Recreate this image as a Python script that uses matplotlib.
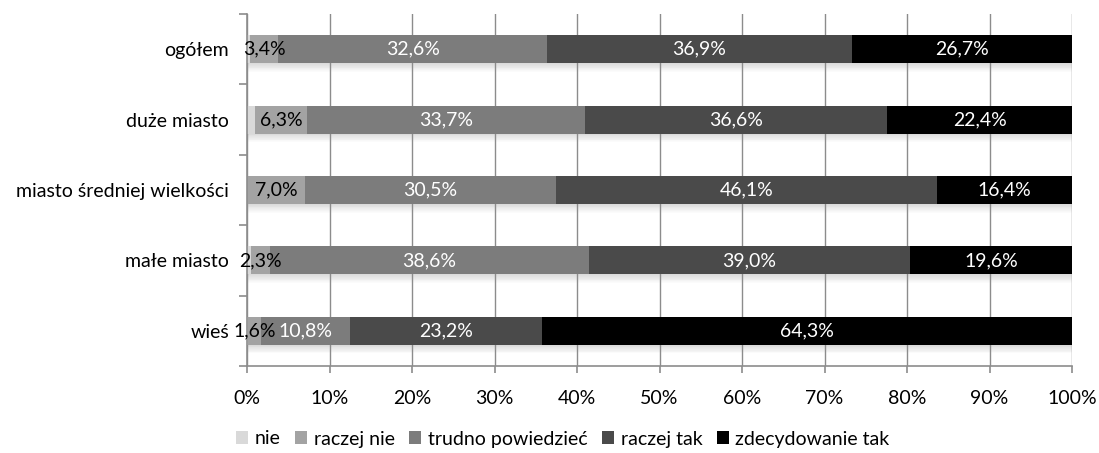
import matplotlib
matplotlib.use("Agg")
import matplotlib.pyplot as plt
import numpy as np
from matplotlib.patches import Patch

plt.rcParams['font.family'] = ['Lato', 'DejaVu Sans']

categories = ["ogółem", "duże miasto", "miasto średniej wielkości", "małe miasto", "wieś"]
series_names = ["nie", "raczej nie", "trudno powiedzieć", "raczej tak", "zdecydowanie tak"]
nie = [0.4, 1.0, 0.0, 0.5, 0.1]
raczej_nie = [3.4, 6.3, 7.0, 2.3, 1.6]
trudno = [32.6, 33.7, 30.5, 38.6, 10.8]
raczej_tak = [36.9, 36.6, 46.1, 39.0, 23.2]
zdecydowanie = [26.7, 22.4, 16.4, 19.6, 64.3]
xtick_labels = ["0%", "10%", "20%", "30%", "40%", "50%", "60%", "70%", "80%", "90%", "100%"]

series = [nie, raczej_nie, trudno, raczej_tak, zdecydowanie]
colors = ["#d9d9d9", "#a3a3a3", "#7c7c7c", "#4a4a4a", "#000000"]
label_colors = [None, "black", "white", "white", "white"]
FS = 14

fig = plt.figure(figsize=(10.99, 4.53), dpi=100)
ax = fig.add_axes([247/1099, 1-366/453, (1072-247)/1099, (366-14)/453])

y = np.arange(len(categories))
bar_h = 0.4
totals = np.sum(np.array(series), axis=0)

# soft shadow under each bar
steps = 10
for k in range(steps):
    a = 0.28 * (1 - k / steps)
    ax.barh(y + bar_h/2 + k*0.012 + 0.006, totals, height=0.012, left=0,
            color="#808080", alpha=a, linewidth=0, zorder=0.3)

left = np.zeros(len(categories))
for vals, col, lc in zip(series, colors, label_colors):
    vals = np.array(vals)
    ax.barh(y, vals, height=bar_h, left=left, color=col, linewidth=0, zorder=2)
    if lc is not None:
        for yi, (l, v) in enumerate(zip(left, vals)):
            ax.text(l + v/2, yi, f"{v:.1f}%".replace(".", ","), ha="center", va="center",
                    color=lc, fontsize=FS, zorder=3)
    left += vals

ax.set_xlim(0, 100)
ax.set_ylim(len(categories) - 0.5, -0.5)
ax.set_xticks(np.arange(0, 101, 10))
ax.set_xticklabels(xtick_labels, fontsize=FS)
ax.set_yticks(y)
ax.set_yticklabels(categories, fontsize=FS)
ax.set_yticks(np.arange(-0.5, len(categories), 1), minor=True)

ax.xaxis.grid(True, color="#8c8c8c", linewidth=1.0)
ax.set_axisbelow(True)
for g in ax.get_xgridlines():
    g.set_zorder(0.5)

for s in ["top", "right"]:
    ax.spines[s].set_visible(False)
for s in ["left", "bottom"]:
    ax.spines[s].set_color("#8c8c8c")
    ax.spines[s].set_linewidth(1.2)

ax.tick_params(axis="y", which="major", length=0, pad=13)
ax.tick_params(axis="y", which="minor", length=6, color="#8c8c8c", width=1.2)
ax.tick_params(axis="x", which="major", length=5, color="#8c8c8c", width=1.2, pad=12)

handles = [Patch(facecolor=c, edgecolor="none") for c in colors]
fig.legend(handles, series_names, loc="center", bbox_to_anchor=(563/1099, 1-439/453), ncol=5,
           frameon=False, fontsize=FS, handlelength=0.6, handleheight=0.6,
           handletextpad=0.35, columnspacing=0.75, borderpad=0)

fig.savefig("out.png", dpi=100)
